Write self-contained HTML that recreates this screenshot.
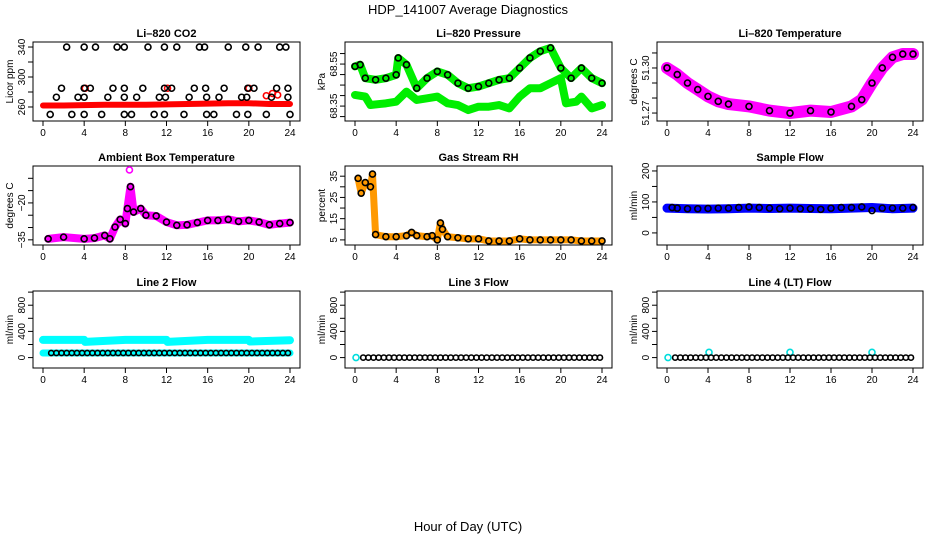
<!DOCTYPE html>
<html><head><meta charset="utf-8">
<style>
html,body{margin:0;padding:0;background:#fff;}
svg{display:block;font-family:"Liberation Sans",sans-serif;}
</style></head>
<body>
<svg id="chart" width="936" height="540" viewBox="0 0 936 540" xmlns="http://www.w3.org/2000/svg">
<text x="468" y="14" text-anchor="middle" font-size="13">HDP_141007  Average Diagnostics</text>
<text x="468" y="531" text-anchor="middle" font-size="13">Hour of Day (UTC)</text>
</svg>
<script>
// ---------- data ----------
const hourTicks=[0,4,8,12,16,20,24];
// CO2
const co2RedHours=[0,2,4,6,8,10,12,14,16,18,20,22,24];
const co2RedVals=[262,262,262.5,263,263,263,263.5,264,264.5,265,265,264,264];
const co2RedMarkHours=[4.1,12.1,20.0,21.7,22.3,22.8];
const co2RedMarkVals=[285,285,285,275,278,276];
const co2BlackHours=[2.3,4.0,5.1,7.2,7.9,10.2,11.8,13.0,15.2,15.7,18.0,19.7,20.9,23.0,23.6,
 1.8,4.0,4.6,6.8,7.9,9.7,11.8,12.5,14.7,15.8,17.6,19.9,20.5,22.7,23.8,
 1.3,3.4,4.0,6.3,7.9,9.1,11.3,11.9,14.2,15.9,17.1,19.3,19.8,22.2,23.8,
 0.7,2.8,4.0,5.7,7.9,8.6,10.8,11.8,13.7,15.9,16.6,18.8,19.9,21.7,24.0];
const co2BlackVals=[340,340,340,340,340,340,340,340,340,340,340,340,340,340,340,
 285,285,285,285,285,285,285,285,285,285,285,285,285,285,285,
 273,273,273,273,273,273,273,273,273,273,273,273,273,273,273,
 250,250,250,250,250,250,250,250,250,250,250,250,250,250,250];
// Pressure
const presUpHours=[0,0.5,1,2,3,4,4.2,5,6,7,8,9,10,11,12,13,14,15,16,17,18,19,20,21,22,23,24];
const presUpVals=[68.539,68.547,68.483,68.475,68.483,68.499,68.579,68.547,68.435,68.483,68.515,68.499,68.459,68.435,68.443,68.459,68.475,68.483,68.531,68.579,68.611,68.627,68.531,68.483,68.531,68.483,68.459];
const presLowHours=[0,1,1.5,3,4,5,6,7,8,9,10,11,12,13,14,15,16,17,18,19,20,20.5,21.5,22,23,24];
const presLowVals=[68.403,68.395,68.355,68.363,68.371,68.419,68.379,68.387,68.395,68.363,68.355,68.331,68.347,68.347,68.355,68.339,68.395,68.435,68.435,68.459,68.483,68.363,68.371,68.395,68.339,68.355];
// Li-820 temperature
const tempHours=[0,1,2,3,4,5,6,8,10,12,14,16,18,19,20,21,22,23,24];
const tempVals=[51.300,51.2956,51.290,51.2856,51.2811,51.2778,51.276,51.2744,51.2716,51.270,51.2716,51.2707,51.2744,51.2789,51.290,51.300,51.3071,51.3093,51.3093];
// Ambient box temperature
const ambHours=[0.5,2,4,5,6,6.5,7,7.5,8,8.2,8.5,8.8,9.5,10,11,12,13,14,15,16,17,18,19,20,21,22,23,24];
const ambVals=[-34.6,-33.9,-34.6,-34.3,-33.2,-34.6,-29.8,-26.7,-28.4,-22.3,-13.4,-23.7,-22.3,-25.0,-25.3,-27.8,-29.1,-28.9,-28.0,-27.1,-27.1,-26.7,-27.5,-27.1,-27.8,-28.9,-28.4,-28.0];
const ambPeakHours=[8.4];
const ambPeakVals=[-6.6];
// Gas stream RH
const rhHours=[0.3,0.6,1,1.5,1.7,2,3,4,5,5.5,6,7,7.5,8,8.3,8.5,9,10,11,12,13,14,15,16,17,18,19,20,21,22,23,24];
const rhVals=[34,27,32,30,36,7.5,6.5,6.5,7,8.5,7,6.5,7,5,13,10,6.5,6,5.5,5.5,4.5,4.5,4.5,5.5,5,5,5,5,5,4.5,4.5,4.5];
// Sample flow
const sampHours=[0,2,4,6,8,10,12,14,16,18,20,22,24];
const sampVals=[80,78,77,78,80,79,80,79,78,80,82,78,80];
const sampBlackHours=[0.5,1,2,3,4,5,6,7,8,9,10,11,12,13,14,15,16,17,18,19,20,21,22,23,24];
const sampBlackVals=[82,80,78,78,79,80,80,82,84,82,80,78,80,78,78,76,80,82,82,84,72,80,80,80,82];
// Line flows
const flowHours=[0,4,4.1,8,12,12.1,16,20,20.1,24];
const line2CyanVals=[270,270,240,270,270,240,270,270,245,265];
const blackHours=[0.8,1.8,2.8,3.8,4.8,5.8,6.8,7.8,8.8,9.8,10.8,11.8,12.8,13.8,14.8,15.8,16.8,17.8,18.8,19.8,20.8,21.8,22.8,23.8,1.3,2.3,3.3,4.3,5.3,6.3,7.3,8.3,9.3,10.3,11.3,12.3,13.3,14.3,15.3,16.3,17.3,18.3,19.3,20.3,21.3,22.3,23.3];
const line2BlackVals=[70,70,70,70,70,70,70,70,70,70,70,70,70,70,70,70,70,70,70,70,70,70,70,70,70,70,70,70,70,70,70,70,70,70,70,70,70,70,70,70,70,70,70,70,70,70,70];
const line3BlackVals=[0,0,0,0,0,0,0,0,0,0,0,0,0,0,0,0,0,0,0,0,0,0,0,0,0,0,0,0,0,0,0,0,0,0,0,0,0,0,0,0,0,0,0,0,0,0,0];
const line4BlackVals=[0,0,0,0,0,0,0,0,0,0,0,0,0,0,0,0,0,0,0,0,0,0,0,0,0,0,0,0,0,0,0,0,0,0,0,0,0,0,0,0,0,0,0,0,0,0,0];
const line4BlipHours=[0.1,4.1,12.0,20.0];
const line4BlipVals=[0,80,80,80];
const line3BlipHours=[0.1];
const line3BlipVals=[0];

// ---------- drawing ----------
const NS="http://www.w3.org/2000/svg";
const svg=document.getElementById('chart');
function el(tag,attrs,parent){const e=document.createElementNS(NS,tag);for(const k in attrs)e.setAttribute(k,attrs[k]);(parent||svg).appendChild(e);return e;}

const cols=[{t0:43,t24:290},{t0:355,t24:602},{t0:667,t24:913}];
const rows=[{y0:42,y1:121},{y0:166,y1:245},{y0:291,y1:368}];

function panel(cfg){
  const c=cols[cfg.col],r=rows[cfg.row];
  const bx0=c.t0-10,bx1=c.t24+10,by0=r.y0,by1=r.y1;
  const g=el('g',{});
  
  
  const X=h=>c.t0+(h/24)*(c.t24-c.t0);
  const Y=v=>by1-(v-cfg.lo)/(cfg.hi-cfg.lo)*(by1-by0);
  const ttl=el('text',{x:(bx0+bx1)/2,y:by0-5,'text-anchor':'middle','font-size':11,'font-weight':'bold'},g);
  ttl.textContent=cfg.title;
  
  
  const box=el('rect',{x:bx0,y:by0,width:bx1-bx0,height:by1-by0,fill:'none',stroke:'#000','stroke-width':1},g);
  
  
  const xa=el('g',{},g);
  
  
  el('line',{x1:X(0),x2:X(24),y1:by1,y2:by1,stroke:'#000'},xa);
  hourTicks.forEach(h=>{
    el('line',{x1:X(h),x2:X(h),y1:by1,y2:by1+5,stroke:'#000'},xa);
    const t=el('text',{x:X(h),y:by1+15,'text-anchor':'middle','font-size':10},xa);
    t.textContent=h;
    
    
  });
  const ya=el('g',{},g);
  
  
  const tk=cfg.ticks;
  el('line',{x1:bx0,x2:bx0,y1:Y(tk[0]),y2:Y(tk[tk.length-1]),stroke:'#000'},ya);
  tk.forEach(v=>el('line',{x1:bx0-5,x2:bx0,y1:Y(v),y2:Y(v),stroke:'#000'},ya));
  cfg.labels.forEach(v=>{
    const t=el('text',{x:0,y:0,'text-anchor':'middle','font-size':10,transform:`translate(${bx0-8},${Y(v)}) rotate(-90)`},ya);
    t.textContent=cfg.fmt?cfg.fmt(v):v;
    
    
  });
  const yl=el('text',{x:0,y:0,'text-anchor':'middle','font-size':10,transform:`translate(${bx0-20},${(by0+by1)/2}) rotate(-90)`},g);
  yl.textContent=cfg.ylabel;
  
  
  const clip='clip'+cfg.row+cfg.col;
  const cp=el('clipPath',{id:clip},g);el('rect',{x:bx0,y:by0-4,width:bx1-bx0,height:by1-by0+4},cp);
  const sg=el('g',{'clip-path':`url(#${clip})`},g);
  cfg.series.forEach(s=>{
    if(s.type==='band'){
      const p=el('polyline',{points:s.h.map((h,i)=>X(h)+','+Y(s.v[i])).join(' '),fill:'none',stroke:s.color,'stroke-width':s.w,'stroke-linejoin':'round','stroke-linecap':'round'},sg);
      
      
    } else {
      const sgg=el('g',{},sg);
      
      
      s.h.forEach((h,i)=>{
        const ci=el('circle',{cx:X(h),cy:Y(s.v[i]),r:s.r||3,fill:'none',stroke:s.color,'stroke-width':s.sw||1.6},sgg);
        
        
      });
    }
  });
}

panel({name:'co2-panel',col:0,row:0,title:'Li\u2013820 CO2',ylabel:'Licor ppm',lo:241.3,hi:346.7,ticks:[260,280,300,320,340],labels:[260,300,340],
 series:[{type:'band',name:'co2-red-band',h:co2RedHours,v:co2RedVals,color:'#ff0000',w:6},
 {type:'pts',name:'co2-red-points',h:co2RedMarkHours,v:co2RedMarkVals,color:'#ff0000'},
 {type:'pts',name:'co2-black-points',h:co2BlackHours,v:co2BlackVals,color:'#000'}]});
panel({name:'pressure-panel',col:1,row:0,title:'Li\u2013820 Pressure',ylabel:'kPa',lo:68.279,hi:68.655,ticks:[68.30,68.35,68.40,68.45,68.50,68.55,68.60],labels:[68.35,68.55],fmt:v=>v.toFixed(2),
 series:[{type:'band',name:'pressure-upper-band',h:presUpHours,v:presUpVals,color:'#00ee00',w:8},
 {type:'band',name:'pressure-lower-band',h:presLowHours,v:presLowVals,color:'#00ee00',w:8},
 {type:'pts',name:'pressure-black-points',h:presUpHours,v:presUpVals,color:'#000'}]});
panel({name:'temperature-panel',col:2,row:0,title:'Li\u2013820 Temperature',ylabel:'degrees C',lo:51.2647,hi:51.3173,ticks:[51.27,51.28,51.29,51.30,51.31],labels:[51.27,51.30],fmt:v=>v.toFixed(2),
 series:[{type:'band',name:'temperature-magenta-band',h:tempHours,v:tempVals,color:'#ff00ff',w:12},
 {type:'pts',name:'temperature-black-points',h:tempHours,v:tempVals,color:'#000'}]});
panel({name:'ambient-panel',col:0,row:1,title:'Ambient Box Temperature',ylabel:'degrees C',lo:-37.1,hi:-5,ticks:[-35,-30,-25,-20,-15,-10],labels:[-35,-20],fmt:v=>String(v).replace('-','\u2212'),
 series:[{type:'band',name:'ambient-magenta-band',h:ambHours,v:ambVals,color:'#ff00ff',w:8},
 {type:'pts',name:'ambient-peak',h:ambPeakHours,v:ambPeakVals,color:'#ff00ff'},
 {type:'pts',name:'ambient-black-points',h:ambHours,v:ambVals,color:'#000'}]});
panel({name:'rh-panel',col:1,row:1,title:'Gas Stream RH',ylabel:'percent',lo:2.6,hi:39.8,ticks:[5,10,15,20,25,30,35],labels:[5,15,25,35],
 series:[{type:'band',name:'rh-orange-band',h:rhHours,v:rhVals,color:'#ff9900',w:7},
 {type:'pts',name:'rh-black-points',h:rhHours,v:rhVals,color:'#000'}]});
panel({name:'sample-flow-panel',col:2,row:1,title:'Sample Flow',ylabel:'ml/min',lo:-39,hi:216,ticks:[0,50,100,150,200],labels:[0,100,200],
 series:[{type:'band',name:'sample-blue-band',h:sampHours,v:sampVals,color:'#0000ff',w:9},
 {type:'pts',name:'sample-black-points',h:sampBlackHours,v:sampBlackVals,color:'#000'}]});
panel({name:'line2-panel',col:0,row:2,title:'Line 2 Flow',ylabel:'ml/min',lo:-159,hi:1017,ticks:[0,200,400,600,800,1000],labels:[0,400,800],
 series:[{type:'band',name:'line2-cyan-band',h:flowHours,v:line2CyanVals,color:'#00ffff',w:8},
 {type:'band',name:'line2-cyan-low',h:[0,24],v:[70,70],color:'#00ffff',w:7},
 {type:'pts',name:'line2-black-points',h:blackHours,v:line2BlackVals,color:'#000',r:2.6}]});
panel({name:'line3-panel',col:1,row:2,title:'Line 3 Flow',ylabel:'ml/min',lo:-159,hi:1017,ticks:[0,200,400,600,800,1000],labels:[0,400,800],
 series:[{type:'pts',name:'line3-cyan-points',h:line3BlipHours,v:line3BlipVals,color:'#00dddd'},
 {type:'pts',name:'line3-black-points',h:blackHours,v:line3BlackVals,color:'#000',r:2.6}]});
panel({name:'line4-panel',col:2,row:2,title:'Line 4 (LT) Flow',ylabel:'ml/min',lo:-159,hi:1017,ticks:[0,200,400,600,800,1000],labels:[0,400,800],
 series:[{type:'pts',name:'line4-cyan-points',h:line4BlipHours,v:line4BlipVals,color:'#00dddd'},
 {type:'pts',name:'line4-black-points',h:blackHours,v:line4BlackVals,color:'#000',r:2.6}]});
</script>
</body></html>
